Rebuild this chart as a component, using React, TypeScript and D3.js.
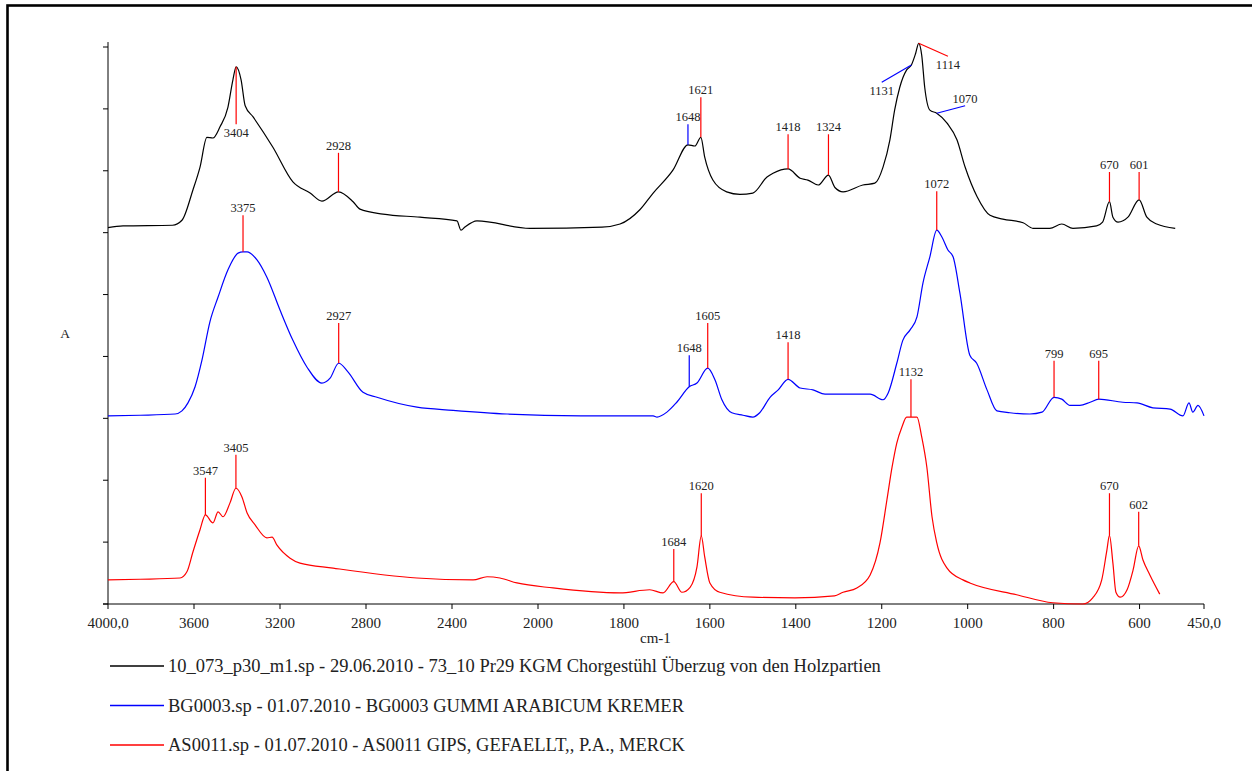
import React from "react";
import * as d3 from "d3";

type Pt = [number, number];

// wavenumber in cm-1, absorbance in stacked units (one y tick = 1)
const sampleSpectrum: Pt[] = [
  [4000, 6.08], [3930, 6.11], [3700, 6.12], [3656, 6.2], [3605, 6.69], [3572, 7.06],
  [3540, 7.54], [3512, 7.53], [3479, 7.71], [3442, 8.03], [3419, 8.47], [3404, 8.68],
  [3381, 8.47], [3362, 8.05], [3325, 7.87], [3233, 7.38], [3140, 6.82], [3060, 6.64],
  [3005, 6.51], [2928, 6.66], [2860, 6.5], [2828, 6.38], [2721, 6.3], [2549, 6.25],
  [2377, 6.19], [2358, 6.04], [2340, 6.09], [2284, 6.19], [2037, 6.07], [1851, 6.09],
  [1809, 6.14], [1763, 6.37], [1732, 6.64], [1686, 7.01], [1651, 7.42], [1635, 7.4],
  [1621, 7.54], [1612, 7.22], [1593, 6.85], [1561, 6.66], [1530, 6.62], [1500, 6.64],
  [1467, 6.9], [1453, 6.96], [1418, 7.03], [1390, 6.88], [1372, 6.85], [1348, 6.77],
  [1324, 6.93], [1309, 6.73], [1290, 6.66], [1244, 6.77], [1216, 6.8], [1197, 7.06],
  [1181, 7.5], [1170, 7.98], [1158, 8.35], [1142, 8.63], [1131, 8.71], [1121, 8.9],
  [1114, 9.06], [1107, 8.87], [1100, 8.35], [1088, 7.98], [1072, 7.93], [1048, 7.77],
  [1025, 7.5], [1006, 7.06], [978, 6.58], [948, 6.28], [918, 6.22], [871, 6.16],
  [848, 6.07], [809, 6.07], [781, 6.14], [755, 6.07], [700, 6.11], [686, 6.17],
  [670, 6.5], [662, 6.25], [650, 6.17], [627, 6.25], [601, 6.53], [583, 6.25],
  [560, 6.14], [517, 6.07],
];

const gumSpectrum: Pt[] = [
  [4000, 3.04], [3850, 3.05], [3688, 3.07], [3656, 3.12], [3628, 3.25], [3595, 3.51],
  [3563, 3.94], [3526, 4.56], [3488, 4.96], [3442, 5.4], [3395, 5.67], [3372, 5.69],
  [3353, 5.69], [3307, 5.56], [3261, 5.28], [3200, 4.75], [3140, 4.26], [3075, 3.83],
  [3005, 3.57], [2967, 3.65], [2927, 3.89], [2884, 3.75], [2814, 3.42], [2749, 3.34],
  [2563, 3.18], [2395, 3.13], [2144, 3.07], [1900, 3.04], [1732, 3.04], [1723, 3.02],
  [1700, 3.1], [1677, 3.26], [1648, 3.51], [1630, 3.57], [1605, 3.81], [1588, 3.62],
  [1572, 3.3], [1549, 3.09], [1523, 3.05], [1500, 3.02], [1484, 3.09], [1460, 3.34],
  [1441, 3.46], [1418, 3.63], [1390, 3.49], [1360, 3.46], [1332, 3.39], [1297, 3.39],
  [1227, 3.39], [1197, 3.3], [1185, 3.41], [1165, 3.89], [1151, 4.26], [1134, 4.43],
  [1118, 4.64], [1104, 5.19], [1088, 5.61], [1072, 6.04], [1060, 5.93], [1046, 5.72],
  [1034, 5.61], [1018, 5.02], [995, 4.02], [979, 3.89], [955, 3.46], [932, 3.12],
  [902, 3.09], [855, 3.07], [827, 3.1], [799, 3.34], [781, 3.31], [762, 3.21],
  [739, 3.21], [715, 3.26], [695, 3.31], [639, 3.26], [606, 3.25], [569, 3.17],
  [529, 3.15], [499, 3.04], [485, 3.25], [476, 3.1], [464, 3.21], [450, 3.04],
];

const gypsumSpectrum: Pt[] = [
  [4000, 0.39], [3850, 0.4], [3665, 0.42], [3633, 0.52], [3605, 0.84], [3572, 1.2],
  [3547, 1.44], [3512, 1.31], [3488, 1.49], [3465, 1.41], [3433, 1.63], [3405, 1.87],
  [3377, 1.73], [3353, 1.47], [3316, 1.28], [3261, 1.07], [3237, 1.08], [3214, 0.95],
  [3153, 0.74], [3107, 0.66], [2953, 0.58], [2563, 0.42], [2302, 0.39], [2237, 0.44],
  [2177, 0.42], [2098, 0.34], [1965, 0.26], [1809, 0.18], [1740, 0.23], [1709, 0.18],
  [1684, 0.36], [1665, 0.19], [1646, 0.27], [1630, 0.6], [1620, 1.1], [1612, 0.76],
  [1600, 0.34], [1577, 0.19], [1500, 0.11], [1402, 0.1], [1310, 0.13], [1290, 0.19],
  [1258, 0.26], [1227, 0.47], [1204, 0.99], [1188, 1.68], [1176, 2.21], [1165, 2.6],
  [1153, 2.86], [1142, 3.02], [1132, 3.02], [1118, 3.02], [1107, 2.7], [1095, 2.21],
  [1083, 1.41], [1072, 0.99], [1048, 0.58], [1011, 0.39], [995, 0.34], [886, 0.15],
  [802, 0.02], [732, 0.0], [709, 0.1], [688, 0.39], [676, 0.87], [670, 1.11],
  [662, 0.66], [655, 0.19], [645, 0.11], [629, 0.23], [615, 0.55], [602, 0.94],
  [592, 0.71], [576, 0.47], [553, 0.16],
];

type Peak = {label: string, wn: number, tipWn: number, tipA: number, below?: boolean, kind: "peak" | "shoulder"};

const samplePeaks: Peak[] = [
  {label: "3404", wn: 3404, tipWn: 3404, tipA: 7.75, below: true, kind: "peak"},
  {label: "2928", wn: 2928, tipWn: 2928, tipA: 7.29, kind: "peak"},
  {label: "1648", wn: 1651, tipWn: 1651, tipA: 7.75, kind: "shoulder"},
  {label: "1621", wn: 1621, tipWn: 1621, tipA: 8.19, kind: "peak"},
  {label: "1418", wn: 1418, tipWn: 1418, tipA: 7.59, kind: "peak"},
  {label: "1324", wn: 1324, tipWn: 1324, tipA: 7.59, kind: "peak"},
  {label: "1114", wn: 1114, tipWn: 1046, tipA: 8.85, below: true, kind: "peak"},
  {label: "1131", wn: 1131, tipWn: 1200, tipA: 8.43, below: true, kind: "shoulder"},
  {label: "1070", wn: 1072, tipWn: 1006, tipA: 8.05, kind: "shoulder"},
  {label: "670", wn: 670, tipWn: 670, tipA: 6.98, kind: "peak"},
  {label: "601", wn: 601, tipWn: 601, tipA: 6.98, kind: "peak"},
];

const gumPeaks: Peak[] = [
  {label: "3375", wn: 3372, tipWn: 3372, tipA: 6.28, kind: "peak"},
  {label: "2927", wn: 2927, tipWn: 2927, tipA: 4.54, kind: "peak"},
  {label: "1648", wn: 1648, tipWn: 1648, tipA: 4.02, kind: "shoulder"},
  {label: "1605", wn: 1605, tipWn: 1605, tipA: 4.54, kind: "peak"},
  {label: "1418", wn: 1418, tipWn: 1418, tipA: 4.23, kind: "peak"},
  {label: "1072", wn: 1072, tipWn: 1072, tipA: 6.67, kind: "peak"},
  {label: "799", wn: 799, tipWn: 799, tipA: 3.93, kind: "peak"},
  {label: "695", wn: 695, tipWn: 695, tipA: 3.93, kind: "peak"},
];

const gypsumPeaks: Peak[] = [
  {label: "3547", wn: 3547, tipWn: 3547, tipA: 2.04, kind: "peak"},
  {label: "3405", wn: 3405, tipWn: 3405, tipA: 2.41, kind: "peak"},
  {label: "1684", wn: 1684, tipWn: 1684, tipA: 0.89, kind: "peak"},
  {label: "1620", wn: 1620, tipWn: 1620, tipA: 1.79, kind: "peak"},
  {label: "1132", wn: 1132, tipWn: 1132, tipA: 3.63, kind: "peak"},
  {label: "670", wn: 670, tipWn: 670, tipA: 1.79, kind: "peak"},
  {label: "602", wn: 602, tipWn: 602, tipA: 1.49, kind: "peak"},
];

const legendLabels = [
  "10_073_p30_m1.sp - 29.06.2010 - 73_10 Pr29 KGM Chorgestühl Überzug von den Holzpartien",
  "BG0003.sp - 01.07.2010 - BG0003 GUMMI ARABICUM KREMER",
  "AS0011.sp - 01.07.2010 - AS0011 GIPS, GEFAELLT,, P.A., MERCK",
];
const seriesColors = ["#000000", "#0000ff", "#ff0000"];

const xTicks = [4000, 3600, 3200, 2800, 2400, 2000, 1800, 1600, 1400, 1200, 1000, 800, 600, 450];
const yTicks = [0, 1, 2, 3, 4, 5, 6, 7, 8, 9];

const W = 1252, H = 771;
const FONT = '"Liberation Serif", "Times New Roman", Times, "DejaVu Serif", serif';

function valueAt(data: Pt[], wn: number) {
  for (let i = 0; i < data.length - 1; i++) {
    const [w0, a0] = data[i], [w1, a1] = data[i + 1];
    if (wn <= w0 && wn >= w1) {
      return a0 + (a1 - a0) * (w0 - wn) / (w0 - w1);
    }
  }
  return data[data.length - 1][1];
}

export default function App() {
  // spectrometer style axis: 4000-2000 compressed, 2000-450 expanded
  const x = d3.scaleLinear().domain([4000, 2000, 450]).range([108, 538, 1204]);
  const y = d3.scaleLinear().domain([0, 9]).range([604, 47]);

  const line = d3.line<Pt>()
    .x(d => x(d[0]))
    .y(d => y(d[1]))
    .curve(d3.curveMonotoneX);

  const spectra = [sampleSpectrum, gumSpectrum, gypsumSpectrum];
  const peaks = [samplePeaks, gumPeaks, gypsumPeaks];

  const fmt = (v: number) => (v === 4000 || v === 450 ? v + ",0" : String(v));

  return (
    <svg width={W} height={H} style={{position: "absolute", left: 0, top: 0, background: "#fff", fontFamily: FONT}}>
      <rect x={7.5} y={5.5} width={W + 40} height={H + 40} fill="#fff" stroke="#000" strokeWidth={2.6}/>

      {/* axes */}
      <line x1={x(4000)} x2={x(4000)} y1={y(0)} y2={y(9.08)} stroke="#000" strokeWidth={1}/>
      <line x1={x(4000) - 5} x2={x(450)} y1={y(0)} y2={y(0)} stroke="#000" strokeWidth={1}/>
      {yTicks.map(t => (
        <line key={"yt" + t} x1={x(4000) - 5} x2={x(4000)} y1={y(t)} y2={y(t)} stroke="#000"/>
      ))}
      {xTicks.map(t => (
        <g key={"xt" + t}>
          <line x1={x(t)} x2={x(t)} y1={y(0)} y2={y(0) + 5} stroke="#000"/>
          <text x={x(t)} y={y(0) + 24} textAnchor="middle" fontSize={15} fill="#222">{fmt(t)}</text>
        </g>
      ))}
      <text x={640} y={643} fontSize={15} fill="#222">cm-1</text>
      <text x={65} y={338} fontSize={13.5} textAnchor="middle" fill="#222">A</text>

      {/* spectra */}
      {spectra.map((s, i) => (
        <path key={"s" + i} d={line(s) || ""} fill="none" stroke={seriesColors[i]} strokeWidth={1.2}/>
      ))}

      {/* peak markers */}
      {peaks.map((list, i) => list.map(p => {
        const x0 = x(p.wn), y0 = y(valueAt(spectra[i], p.wn));
        const x1 = x(p.tipWn), y1 = y(p.tipA);
        return (
          <g key={i + "-" + p.label}>
            <line x1={x0} y1={y0} x2={x1} y2={y1} stroke={p.kind === "peak" ? "#ff0000" : "#0000ff"}
                  strokeWidth={1.2}/>
            <text x={x1} y={p.below ? y1 + 13 : y1 - 3} textAnchor="middle" fontSize={12.5} fill="#222">
              {p.label}
            </text>
          </g>
        );
      }))}

      {/* legend */}
      {legendLabels.map((lab, i) => {
        const ly = 666 + i * 39.5;
        return (
          <g key={"lg" + i}>
            <line x1={110} x2={164} y1={ly} y2={ly} stroke={seriesColors[i]} strokeWidth={1.3}/>
            <text x={168} y={ly + 6} fontSize={18.5} fill="#222">{lab}</text>
          </g>
        );
      })}
    </svg>
  );
}
